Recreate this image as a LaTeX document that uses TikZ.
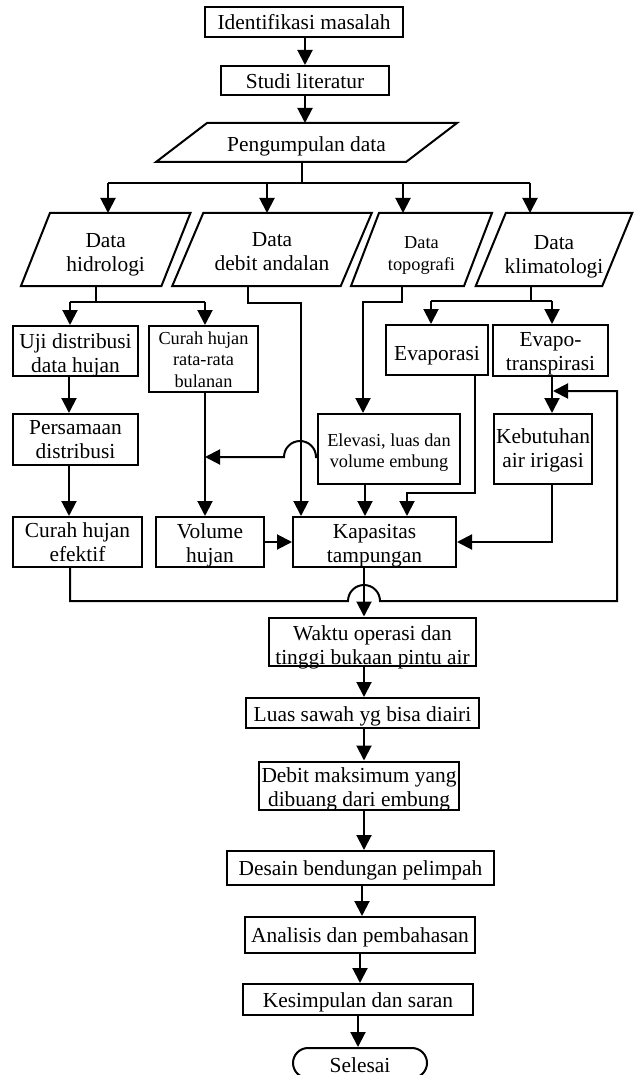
\documentclass[tikz,border=0pt]{standalone}
\usepackage{fontspec}
\setmainfont{Liberation Serif}
\usetikzlibrary{arrows.meta}
\newcommand\mkpara[2]{\draw[line width=2pt, line join=miter] ([xshift=-#2pt]#1.south west) -- ([xshift=#2pt]#1.north west) -- ([xshift=#2pt]#1.north east) -- ([xshift=-#2pt]#1.south east) -- cycle;}
\newcommand\tx[2][4]{\raisebox{-#1pt}[\height][\depth]{\begin{tabular}{@{}c@{}}#2\end{tabular}}}
\begin{document}
\begin{tikzpicture}[x=1pt,y=-1pt,
  every node/.style={font=\fontsize{21.4}{24}\selectfont, inner sep=0pt},
  box/.style={draw, line width=2pt, rectangle},
  small/.style={font=\fontsize{18.3}{21.5}\selectfont},
  pbox/.style={outer sep=0pt},
  sz/.style 2 args={minimum width=#1pt, minimum height=#2pt},
  ln/.style={line width=2pt},
  thinln/.style={line width=1.5pt},
  arr/.style={line width=2pt, -{Triangle[width=15pt,length=15pt]}},
]
\useasboundingbox (0,0) rectangle (639,1075);

% nodes
\node[box,sz={198}{30}] (ident) at (304,22) {\tx[2.5]{Identifikasi masalah}};
\node[box,sz={168}{29}] (studi) at (305,80.5) {\tx[3]{Studi literatur}};
\node[pbox,sz={250}{39}] (peng) at (306.5,142.5) {\tx[4.5]{Pengumpulan data}};
\mkpara{peng}{25.5}
\node[pbox,sz={140.5}{73}] (hid) at (105.7,249.5) {\tx[5.5]{Data\\hidrologi}};
\mkpara{hid}{14.5}
\node[pbox,sz={168.5}{73}] (deb) at (272,249.5) {\tx[4.5]{Data\\debit andalan}};
\mkpara{deb}{15.5}
\node[pbox,small,sz={113}{73}] (topo) at (421.5,249.5) {\tx[5.5]{Data\\topografi}};
\mkpara{topo}{14}
\node[pbox,sz={126.5}{73}] (kli) at (554,249.5) {\tx[7]{Data\\klimatologi}};
\mkpara{kli}{15}
\node[box,sz={125}{50}] (uji) at (75.5,351) {\tx[4.5]{Uji distribusi\\data hujan}};
\node[box,small,sz={109}{66}] (crr) at (203.5,359) {\tx[2.5]{Curah hujan\\rata-rata\\bulanan}};
\node[box,sz={102}{50}] (evap) at (437,350) {\tx[5.5]{Evaporasi}};
\node[box,sz={115}{51}] (evt) at (550.5,350.5) {\tx[3.5]{Evapo-\\transpirasi}};
\node[box,sz={125}{51}] (pers) at (75.5,439.5) {\tx[2.5]{Persamaan\\distribusi}};
\node[box,small,sz={142}{70}] (elev) at (389,449) {\tx[3.5]{Elevasi, luas dan\\volume embung}};
\node[box,sz={98}{70}] (keb) at (543,449) {\tx[1.5]{Kebutuhan\\air irigasi}};
\node[box,sz={129}{50}] (che) at (77.5,542) {\tx[3]{Curah hujan\\efektif}};
\node[box,sz={108}{50}] (vol) at (210,542) {\tx[3.5]{Volume\\hujan}};
\node[box,sz={163}{50}] (kap) at (374.5,542) {\tx[4]{Kapasitas\\tampungan}};
\node[box,sz={207}{47}] (wak) at (372.5,641.5) {\tx[6]{Waktu operasi dan\\tinggi bukaan pintu air}};
\node[box,sz={233}{30}] (luas) at (362.5,713) {\tx[4]{Luas sawah yg bisa diairi}};
\node[box,sz={200}{47}] (debm) at (359,785.5) {\tx[4.5]{Debit maksimum yang\\dibuang dari embung}};
\node[box,sz={267}{34}] (des) at (360.5,868) {\tx[2.5]{Desain bendungan pelimpah}};
\node[box,sz={230}{36}] (ana) at (360,935) {\tx[3]{Analisis dan pembahasan}};
\node[box,sz={230}{31}] (kes) at (358,999.5) {\tx[3]{Kesimpulan dan saran}};
\node[box,rounded corners=15pt,sz={134}{30}] (sel) at (360,1063) {\tx[4.5]{Selesai}};

% coordinates
\coordinate (m) at (305,0);
\coordinate (p0) at (302,183);
\coordinate (b1) at (108,183);
\coordinate (b2) at (267,183);
\coordinate (b3) at (403,183);
\coordinate (b4) at (530,183);
\coordinate (h0) at (96,302);
\coordinate (h1) at (70,302);
\coordinate (h2) at (205,302);
\coordinate (u) at (69,0);
\coordinate (d0) at (248,303);
\coordinate (d1) at (301,303);
\coordinate (t0) at (402,302);
\coordinate (t1) at (363,302);
\coordinate (k0) at (531,301);
\coordinate (k1) at (431,301);
\coordinate (k2) at (552,301);
\coordinate (e0) at (0,457);
\coordinate (v0) at (475,493);
\coordinate (v1) at (407,493);
\coordinate (x0) at (365,0);
\coordinate (c) at (364,0);
\coordinate (ca) at (362,0);
\coordinate (cb) at (360,0);
\coordinate (cc) at (358,0);
\coordinate (f0) at (70,601);
\coordinate (f1) at (617,601);
\coordinate (f2) at (617,391);

% connectors
\draw[arr] (ident.south -| m) -- (studi.north -| m);
\draw[arr] (studi.south -| m) -- (peng.north -| m);
\draw[thinln] (peng.south -| p0) -- (p0);
\draw[thinln] (b1) -- (b4);
\draw[arr] (b1) -- (b1 |- hid.north);
\draw[arr] (b2) -- (b2 |- deb.north);
\draw[arr] (b3) -- (b3 |- topo.north);
\draw[arr] (b4) -- (b4 |- kli.north);

\draw[thinln] (hid.south -| h0) -- (h0);
\draw[ln] (h1) -- (h2);
\draw[arr] (h1) -- (h1 |- uji.north);
\draw[arr] (h2) -- (h2 |- crr.north);
\draw[arr] (uji.south -| u) -- (pers.north -| u);
\draw[arr] (pers.south -| u) -- (che.north -| u);
\draw[arr] (crr.south -| h2) -- (vol.north -| h2);

\draw[arr] (deb.south -| d0) -- (d0) -- (d1) -- (d1 |- kap.north);
\draw[arr] (topo.south -| t0) -- (t0) -- (t1) -- (t1 |- elev.north);

\draw[thinln] (kli.south -| k0) -- (k0);
\draw[ln] (k1) -- (k2);
\draw[arr] (k1) -- (k1 |- evap.north);
\draw[arr] (k2) -- (k2 |- evt.north);
\draw[arr] (evt.south -| k2) -- (keb.north -| k2);

\draw[arr] (elev.west |- e0) -- ++(-1,0) arc[start angle=0,end angle=180,radius=16pt] -- (h2 |- e0);
\draw[arr] (evap.south -| v0) -- (v0) -- (v1) -- (v1 |- kap.north);
\draw[arr] (elev.south -| x0) -- (kap.north -| x0);
\draw[arr] (vol.east) -- (kap.west);
\draw[arr] (keb.south -| k2) |- (kap.east);

\draw[arr] (che.south -| f0) -- (f0) -- ([xshift=-16pt]c |- f0) arc[start angle=180,end angle=0,radius=16pt] -- (f1) -- (f2) -- ([xshift=1pt]k2 |- f2);

\draw[arr] (kap.south -| c) -- (wak.north -| c);
\draw[arr] (wak.south -| c) -- (luas.north -| c);
\draw[arr] (luas.south -| c) -- (debm.north -| c);
\draw[arr] (debm.south -| c) -- (des.north -| c);
\draw[arr] (des.south -| ca) -- (ana.north -| ca);
\draw[arr] (ana.south -| cb) -- (kes.north -| cb);
\draw[arr] (kes.south -| cc) -- (sel.north -| cc);
\end{tikzpicture}
\end{document}
